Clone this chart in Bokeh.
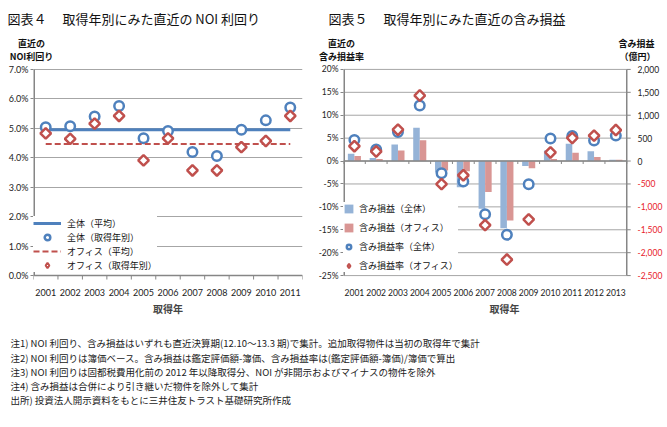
import math
from bokeh.plotting import figure
from bokeh.models import (Range1d, FixedTicker, PrintfTickFormatter, Label, LabelSet,
                          ColumnDataSource, Legend)
from bokeh.layouts import row, column
from bokeh.transform import dodge
from bokeh.core.properties import value
from bokeh.embed import file_html
from bokeh.resources import INLINE

JP = "Noto Sans CJK JP"
NUM = "Lato"
BLUE = "#4F81BD"
RED = "#C0504D"
BAR_BLUE = "#95B3D7"
BAR_RED = "#D99694"
GRID = "#A6A6A6"
AXIS = "#868686"
NEG = "#E8202A"

# ---------------- Figure 4 data ----------------
years4 = [2001, 2002, 2003, 2004, 2005, 2006, 2007, 2008, 2009, 2010, 2011]
noi_all = [5.04, 5.07, 5.40, 5.76, 4.66, 4.91, 4.20, 4.06, 4.95, 5.27, 5.71]
noi_office = [4.83, 4.64, 5.16, 5.42, 3.91, 4.66, 3.57, 3.57, 4.36, 4.57, 5.42]
noi_all_avg = 4.95
noi_office_avg = 4.47
yticks4 = [0, 1, 2, 3, 4, 5, 6, 7]

# ---------------- Figure 5 data ----------------
years5 = [2001, 2002, 2003, 2004, 2005, 2006, 2007, 2008, 2009, 2010, 2011, 2012, 2013]
gain_all = [158, 65, 360, 728, -249, -571, -1040, -1465, -107, 230, 375, 216, 30]
gain_office = [108, 43, 230, 454, -206, -221, -678, -1300, -157, 43, 180, 86, 30]
rate_all = [4.61, 2.52, 6.34, 12.1, -2.67, -4.47, -11.6, -16.1, -5.04, 4.90, 5.48, 4.47, 5.55]
rate_office = [3.24, 2.09, 6.84, 14.3, -5.04, -3.10, -13.98, -21.5, -12.75, 1.87, 5.04, 5.55, 6.77]
yticks5 = [-25, -20, -15, -10, -5, 0, 5, 10, 15, 20]
yen_ticks = [-2500, -2000, -1500, -1000, -500, 0, 500, 1000, 1500, 2000]

title4 = "図表４　 取得年別にみた直近の NOI 利回り"
title5 = "図表５　 取得年別にみた直近の含み損益"
notes = [
    "注1) NOI 利回り、含み損益はいずれも直近決算期(12.10～13.3 期)で集計。追加取得物件は当初の取得年で集計",
    "注2) NOI 利回りは簿価ベース。含み損益は鑑定評価額-簿価、含み損益率は(鑑定評価額-簿価)/簿価で算出",
    "注3) NOI 利回りは固都税費用化前の 2012 年以降取得分、NOI が非開示およびマイナスの物件を除外",
    "注4) 含み損益は合併により引き継いだ物件を除外して集計",
    "出所) 投資法人開示資料をもとに三井住友トラスト基礎研究所作成",
]

# ---------------- layout constants (page pixels) ----------------
TOTAL_W = 665
HEAD_H = 62
PLOT_TOP, PLOT_BOT = 69, 278      # where the value axes start / end
EXT = 6                           # frame extends this much beyond them
H = 256                           # chart row height (page y 62..318)
MBT = PLOT_TOP - EXT - HEAD_H
MBB = HEAD_H + H - (PLOT_BOT + EXT)
PH = PLOT_BOT - PLOT_TOP
NOTE_H = 101
W1 = 315
W2 = TOTAL_W - W1
F1L, F1R = 33, 302                # frame left/right of figure 4
F2L, F2A = 341, 626               # frame left / right value axis of figure 5


def label(p, x, y, text, size="10px", bold=False, align="left", color="#111111", font=JP):
    p.add_layout(Label(x=x, y=y, x_units="screen", y_units="screen", text=text,
                       text_font=font, text_font_size=size,
                       text_font_style="bold" if bold else "normal",
                       text_align=align, text_baseline="middle", text_color=color))


def blank_fig(w, h):
    p = figure(width=w, height=h, x_range=Range1d(0, 1), y_range=Range1d(0, 1),
               output_backend="svg", toolbar_location=None, min_border=0)
    p.axis.visible = False
    p.grid.visible = False
    p.outline_line_color = None
    return p


def ext_range(lo, hi):
    d = EXT * (hi - lo) / PH
    return Range1d(lo - d, hi + d)


def style_fig(p):
    p.outline_line_color = None
    p.background_fill_color = "white"
    p.border_fill_color = "white"
    p.xgrid.visible = False
    ya = p.yaxis[0]
    ya.axis_line_color = None
    ya.major_tick_line_color = AXIS
    ya.major_tick_line_width = 1
    ya.major_tick_out = 3
    ya.major_tick_in = 0
    ya.minor_tick_line_color = None
    ya.major_label_text_font = NUM
    ya.major_label_text_font_size = "9px"
    ya.major_label_text_color = "#222222"
    ya.major_label_standoff = 2
    xa = p.xaxis[0]
    xa.axis_line_color = None
    xa.major_tick_line_color = None
    xa.minor_tick_line_color = None
    xa.major_label_text_font = NUM
    xa.major_label_text_font_size = "9px"
    xa.major_label_text_color = "#222222"
    xa.major_label_standoff = 1
    xa.axis_label = "取得年"
    xa.axis_label_text_font = JP
    xa.axis_label_text_font_size = "10px"
    xa.axis_label_text_font_style = "bold"
    xa.axis_label_standoff = 2


def style_legend(leg, gw, gh, lh, sp, standoff):
    leg.label_text_font = JP
    leg.label_text_font_size = "9px"
    leg.label_text_color = "#111111"
    leg.glyph_width = gw
    leg.glyph_height = gh
    leg.label_height = lh
    leg.spacing = sp
    leg.padding = 6
    leg.margin = 0
    leg.label_standoff = standoff
    leg.border_line_color = None
    leg.background_fill_color = "white"
    leg.background_fill_alpha = 1


# ---------------- Header (titles and axis titles) ----------------
head = blank_fig(TOTAL_W, HEAD_H)
label(head, 7, HEAD_H - 18, title4, size="13px")
label(head, 328, HEAD_H - 18, title5, size="13px")
label(head, 31, HEAD_H - 43, "直近の", size="9px", bold=True, align="center")
label(head, 31, HEAD_H - 56, "NOI利回り", size="9px", bold=True, align="center")
label(head, 341, HEAD_H - 43, "直近の", size="9px", bold=True, align="center")
label(head, 341, HEAD_H - 56, "含み損益率", size="9px", bold=True, align="center")
label(head, 636, HEAD_H - 43, "含み損益", size="9px", bold=True, align="center")
label(head, 637, HEAD_H - 56, "（億円）", size="9px", bold=True, align="center")

# ---------------- Figure 4 ----------------
x4lo, x4hi = years4[0] - 0.5, years4[-1] + 0.5
src4 = ColumnDataSource(dict(year=years4, all=noi_all, office=noi_office))
p1 = figure(width=W1, height=H, x_range=Range1d(x4lo, x4hi),
            y_range=ext_range(yticks4[0], yticks4[-1]), output_backend="svg", toolbar_location=None,
            min_border_left=F1L, min_border_right=W1 - F1R, min_border_top=MBT, min_border_bottom=MBB)
style_fig(p1)
p1.yaxis.ticker = FixedTicker(ticks=yticks4)
p1.ygrid.ticker = FixedTicker(ticks=yticks4)
p1.ygrid.grid_line_color = GRID
p1.yaxis.formatter = PrintfTickFormatter(format="%.1f%%")
p1.xaxis.ticker = FixedTicker(ticks=years4)
dy1 = (yticks4[-1] - yticks4[0]) / PH
bounds4 = [y - 0.5 for y in years4] + [x4hi]
# value axis line, category axis line at 0 and its boundary ticks
p1.segment(x0=[x4lo], y0=[yticks4[0]], x1=[x4lo], y1=[yticks4[-1]], line_color=AXIS, line_width=3)
p1.segment(x0=[x4lo], y0=[0], x1=[x4hi], y1=[0], line_color=AXIS, line_width=1.5)
p1.segment(x0=bounds4, y0=[0] * len(bounds4), x1=bounds4, y1=[-4 * dy1] * len(bounds4),
           line_color=AXIS, line_width=1)

r_avg_all = p1.line(x=[years4[0], years4[-1]], y=[noi_all_avg, noi_all_avg], line_color=BLUE, line_width=3)
r_all = p1.scatter("year", "all", source=src4, marker="circle", size=9.5, line_color=BLUE,
                   line_width=2.5, fill_color="white")
r_avg_off = p1.line(x=[years4[0], years4[-1]], y=[noi_office_avg, noi_office_avg], line_color=RED,
                    line_width=2, line_dash="6 3")
r_off = p1.scatter("year", "office", source=src4, marker="square", angle=math.pi / 4, size=7.5,
                   line_color=RED, line_width=2.5, fill_color="white")
# legend swatch only (its single point has no y value, so nothing is drawn in the plot)
r_off_leg = p1.scatter(x=[years4[0]], y=[float("nan")], marker="diamond", size=10, line_color=RED,
                       line_width=2, fill_color="white")

leg1 = Legend(items=[("全体（平均）", [r_avg_all]), ("全体（取得年別）", [r_all]),
                     ("オフィス（平均）", [r_avg_off]), ("オフィス（取得年別）", [r_off_leg])],
              location=(0, 3 + EXT))
style_legend(leg1, 28, 14, 14, 0, 6)
p1.add_layout(leg1)

# ---------------- Figure 5 ----------------
x5lo, x5hi = years5[0] - 0.5, years5[-1] + 0.5
dx5 = (x5hi - x5lo) / (F2A - F2L)                     # data units per pixel
x5end = x5lo + dx5 * (TOTAL_W - F2L)                  # frame also holds the right-axis labels
src5 = ColumnDataSource(dict(year=years5, gain_all=gain_all, gain_office=gain_office,
                             rate_all=rate_all, rate_office=rate_office))
p2 = figure(width=W2, height=H, x_range=Range1d(x5lo, x5end),
            y_range=ext_range(yticks5[0], yticks5[-1]), output_backend="svg", toolbar_location=None,
            min_border_left=F2L - W1, min_border_right=0, min_border_top=MBT, min_border_bottom=MBB)
p2.extra_y_ranges = {"yen": ext_range(yen_ticks[0], yen_ticks[-1])}
style_fig(p2)
p2.ygrid.visible = False
p2.yaxis.ticker = FixedTicker(ticks=yticks5)
p2.yaxis.formatter = PrintfTickFormatter(format="%d%%")
p2.yaxis.major_label_text_font_size = "8.5px"
p2.xaxis.ticker = FixedTicker(ticks=years5)
p2.xaxis.major_label_text_font_size = "8.5px"
dy5 = (yticks5[-1] - yticks5[0]) / PH

# gridlines (only across the plotting area)
p2.segment(x0=[x5lo] * len(yticks5), y0=yticks5, x1=[x5hi] * len(yticks5), y1=yticks5,
           line_color=GRID, line_width=1)

rb1 = p2.vbar(x=dodge("year", -0.15), top="gain_all", width=0.3, source=src5, y_range_name="yen",
              fill_color=BAR_BLUE, line_color=None)
rb2 = p2.vbar(x=dodge("year", 0.15), top="gain_office", width=0.3, source=src5, y_range_name="yen",
              fill_color=BAR_RED, line_color=None)

# axis lines: left value axis, right value axis with ticks, category axis at 0 with ticks
p2.segment(x0=[x5lo], y0=[yticks5[0]], x1=[x5lo], y1=[yticks5[-1]], line_color=AXIS, line_width=3)
p2.segment(x0=[x5hi], y0=[yticks5[0]], x1=[x5hi], y1=[yticks5[-1]], line_color=AXIS, line_width=1.5)
p2.segment(x0=[x5hi] * len(yen_ticks), y0=yen_ticks, x1=[x5hi + 4 * dx5] * len(yen_ticks), y1=yen_ticks,
           y_range_name="yen", line_color=AXIS, line_width=1)
p2.segment(x0=[x5lo], y0=[0], x1=[x5hi], y1=[0], line_color=AXIS, line_width=1.5)
bounds5 = [y - 0.5 for y in years5] + [x5hi]
p2.segment(x0=bounds5, y0=[0] * len(bounds5), x1=bounds5, y1=[-3 * dy5] * len(bounds5),
           line_color=AXIS, line_width=1)

rc = p2.scatter("year", "rate_all", source=src5, marker="circle", size=9.5, line_color=BLUE,
                line_width=2.5, fill_color="white")
rd = p2.scatter("year", "rate_office", source=src5, marker="square", angle=math.pi / 4, size=7.5,
                line_color=RED, line_width=2.5, fill_color="white")
rd_leg = p2.scatter(x=[years5[0]], y=[float("nan")], marker="diamond", size=10, line_color=RED,
                    line_width=2, fill_color="white")

# right-axis tick labels (negative ones in red)
pos = [t for t in yen_ticks if t >= 0]
neg = [t for t in yen_ticks if t < 0]
for vals, col in ((pos, "#222222"), (neg, NEG)):
    s = ColumnDataSource(dict(y=vals, text=[f"{t:,}" for t in vals]))
    p2.add_layout(LabelSet(x=635 - F2L, y="y", text="text", source=s, x_units="screen",
                           y_range_name="yen", text_align="left", text_baseline="middle",
                           text_color=col, text_font=value(NUM), text_font_size="8.5px"))

leg2 = Legend(items=[("含み損益（全体）", [rb1]), ("含み損益（オフィス）", [rb2]),
                     ("含み損益率（全体）", [rc]), ("含み損益率（オフィス）", [rd_leg])],
              location=(0, 3 + EXT))
style_legend(leg2, 11, 11, 12, 6, 5)
p2.add_layout(leg2)

# ---------------- Notes ----------------
notes_fig = blank_fig(TOTAL_W, NOTE_H)
note_y = [342, 357, 371, 385, 399]  # page y of each note line
top_y = HEAD_H + H
for t, yy in zip(notes, note_y):
    label(notes_fig, 10, NOTE_H - (yy - top_y), t, size="9.5px", color="#222222")

layout = column(head, row(p1, p2, spacing=0), notes_fig, spacing=0)
open("out.html", "w").write(file_html(layout, INLINE))
